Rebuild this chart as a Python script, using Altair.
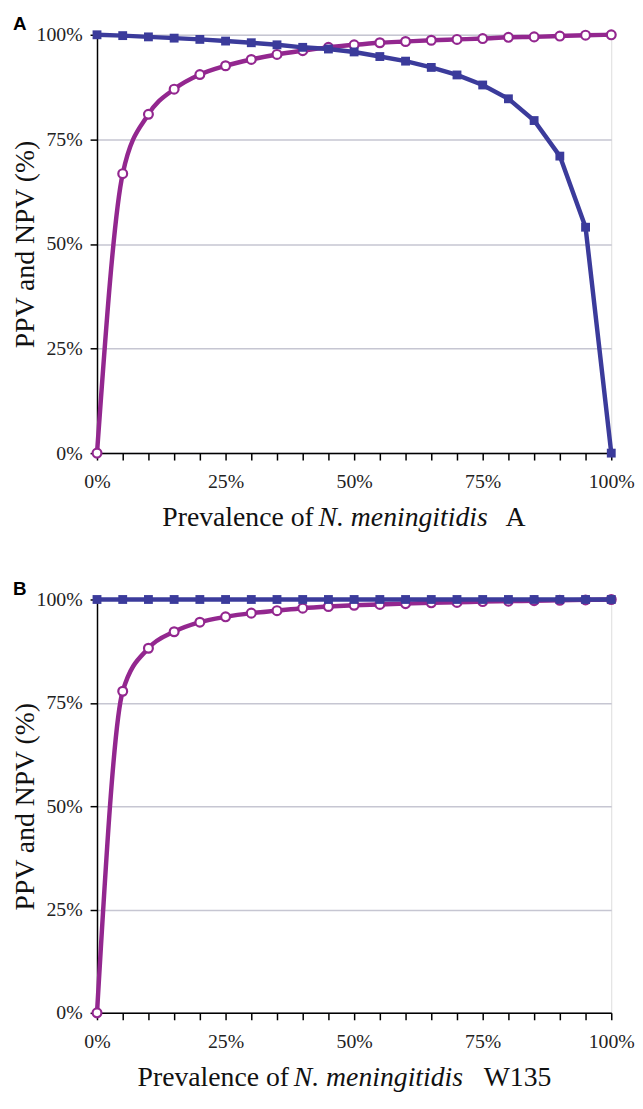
import altair as alt
import pandas as pd

prevalence = [0, 5, 10, 15, 20, 25, 30, 35, 40, 45, 50, 55, 60, 65, 70, 75, 80, 85, 90, 95, 100]

ppv_a = [0, 66.8, 81.0, 87.0, 90.5, 92.6, 94.1, 95.3, 96.2, 97.0, 97.6, 98.1, 98.4, 98.7, 98.9, 99.1, 99.4, 99.5, 99.7, 99.9, 100]
npv_a = [100, 99.8, 99.5, 99.2, 98.9, 98.5, 98.1, 97.6, 97.0, 96.6, 95.9, 94.8, 93.7, 92.2, 90.4, 88.0, 84.7, 79.5, 71.0, 54.0, 0]

ppv_b = [0, 77.8, 88.2, 92.2, 94.5, 95.8, 96.7, 97.3, 97.9, 98.3, 98.6, 98.8, 99.0, 99.2, 99.3, 99.5, 99.6, 99.7, 99.8, 99.9, 100]
npv_b = [100, 100, 100, 100, 100, 100, 100, 100, 100, 100, 100, 100, 100, 100, 100, 100, 100, 100, 100, 100, 100]

y_ticks = [0, 25, 50, 75, 100]
panel_labels = ["A", "B"]
title_plain = "Prevalence of"
title_italic = "N. meningitidis"
title_suffix = ["A", "W135"]

PURPLE = "#93278f"
BLUE = "#3b3b9b"
SERIF = "Liberation Serif"
W = 520


def panel(ppv, npv, label, suffix, h, x_offsets):
    df_ppv = pd.DataFrame({"prev": prevalence, "val": ppv})
    df_npv = pd.DataFrame({"prev": prevalence, "val": npv})

    x = alt.X(
        "prev:Q",
        scale=alt.Scale(domain=[0, 100], nice=False),
        axis=alt.Axis(
            values=prevalence,
            labelExpr="datum.value % 25 === 0 ? datum.value + '%' : ''",
            grid=False,
            domainColor="black",
            domainWidth=1.5,
            tickColor="black",
            tickWidth=1.5,
            tickSize=7,
            labelFont=SERIF,
            labelFontSize=20,
            labelColor="#222222",
            labelPadding=12,
            labelFlush=False,
            labelOverlap=False,
        ),
        title=None,
    )
    y = alt.Y(
        "val:Q",
        scale=alt.Scale(domain=[0, 100], nice=False),
        axis=alt.Axis(
            values=y_ticks,
            labelExpr="datum.value + '%'",
            grid=True,
            gridColor="#c6c6d2",
            gridWidth=1.5,
            domainColor="black",
            domainWidth=1.5,
            tickColor="black",
            tickWidth=1.5,
            tickSize=7,
            labelFont=SERIF,
            labelFontSize=20,
            labelColor="#222222",
            labelPadding=8,
            labelFlush=False,
            titleFont=SERIF,
            titleFontSize=28,
            titleFontWeight="normal",
            titleColor="#111111",
            titlePadding=-3,
        ),
        title="PPV and NPV (%)",
    )

    ppv_line = alt.Chart(df_ppv).mark_line(color=PURPLE, strokeWidth=4.5, interpolate="monotone").encode(x=x, y=y)
    ppv_pts = alt.Chart(df_ppv).mark_point(
        shape="circle", filled=True, fill="white", stroke=PURPLE, strokeWidth=2.2, size=80, opacity=1
    ).encode(x=x, y=y)
    npv_line = alt.Chart(df_npv).mark_line(color=BLUE, strokeWidth=4.5, interpolate="linear").encode(x=x, y=y)
    npv_pts = alt.Chart(df_npv).mark_square(color=BLUE, size=80, opacity=1).encode(x=x, y=y)

    ty = h + 80

    def txt(s, xo, style="normal"):
        return alt.Chart(pd.DataFrame({"t": [s]})).mark_text(
            font=SERIF, fontSize=28, fontStyle=style, align="left", baseline="bottom", color="#111111"
        ).encode(x=alt.value(xo), y=alt.value(ty), text="t:N")

    t1 = txt(title_plain, x_offsets[0])
    t2 = txt(title_italic, x_offsets[1], "italic")
    t3 = txt(suffix, x_offsets[2])

    lab = alt.Chart(pd.DataFrame({"t": [label]})).mark_text(
        font="Liberation Sans", fontSize=19, fontWeight="bold", align="left", baseline="top", color="black"
    ).encode(x=alt.value(-85), y=alt.value(-20), text="t:N")

    return alt.layer(ppv_line, ppv_pts, npv_line, npv_pts, t1, t2, t3, lab).properties(width=W, height=h)


top = panel(ppv_a, npv_a, panel_labels[0], title_suffix[0], 423, [66, 224, 413])
bottom = panel(ppv_b, npv_b, panel_labels[1], title_suffix[1], 418, [41, 199, 391])

chart = (
    alt.vconcat(top, bottom, spacing=46)
    .properties(padding={"left": 2, "top": 0, "right": 0, "bottom": 0})
    .configure_view(stroke=None)
    .configure(background="white")
)

chart.save("out.html", embed_options={"renderer": "svg", "actions": False})
